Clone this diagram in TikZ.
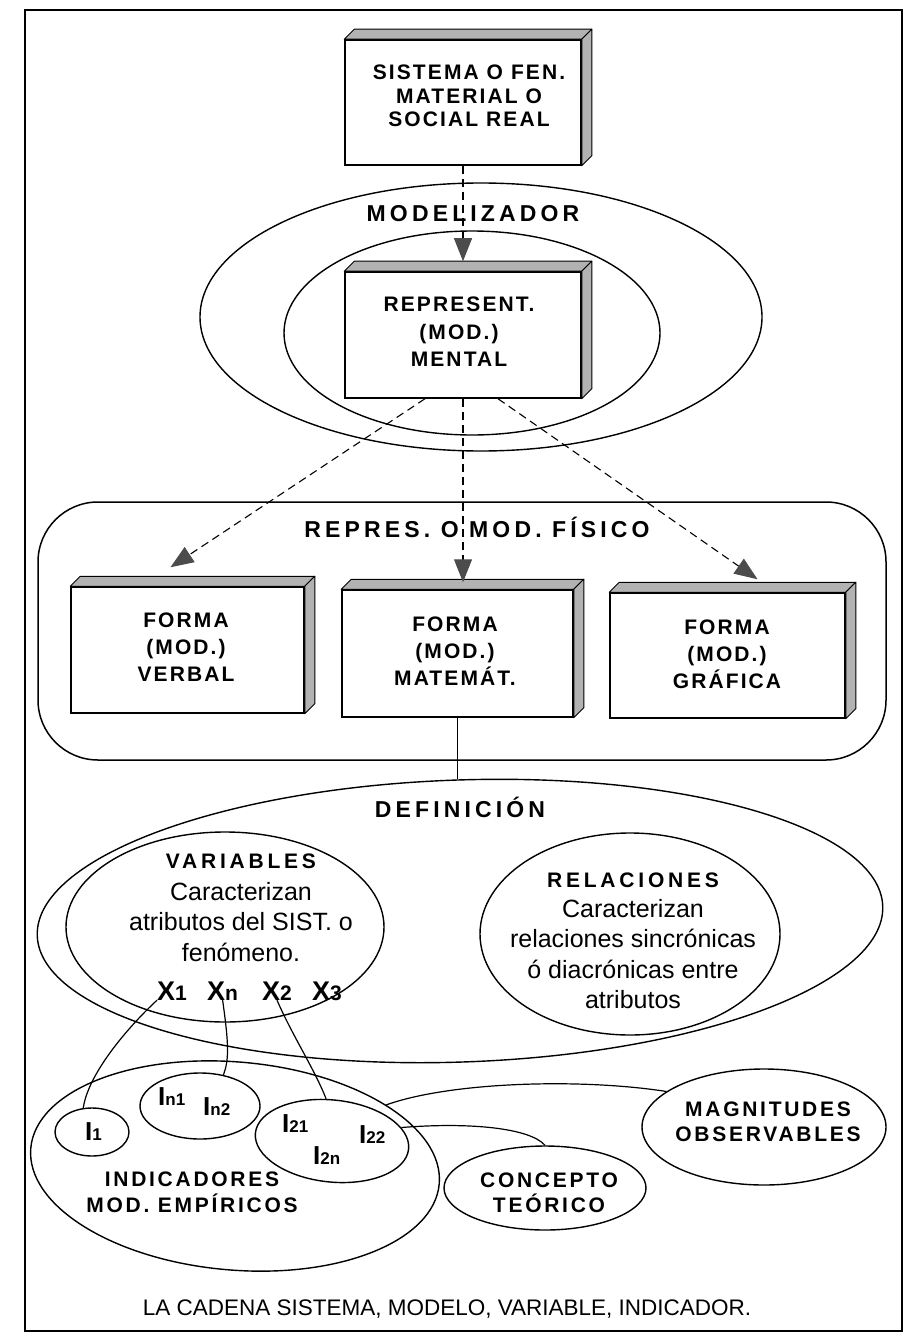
\documentclass[tikz,border=0pt]{standalone}
\usepackage{fontspec}
\setmainfont{Liberation Sans}
\newfontfamily\boxfont{Liberation Sans}[LetterSpace=10]
\newfontfamily\headfont{Liberation Sans}[LetterSpace=18]
\newfontfamily\labfont{Liberation Sans}[LetterSpace=13]
\usetikzlibrary{shapes.geometric,arrows.meta,calc}

\newcommand\fsz[2]{\fontsize{#1}{#2}\selectfont}
% small indices after X and I
\newcommand\sx[1]{{\fsz{21}{21}#1}}
\newcommand\si[1]{{\fsz{17}{17}#1}}

% a box drawn in relief: front face plus shaded top and right sides
\newcommand\tdbox[5]{%
  \node[face, minimum width=#4pt, minimum height=#5pt] (#1) at (#2,#3) {};
  \draw[band] (#1.north west) -- ++(10,-10) -- ($(#1.north east)+(10,-10)$) -- (#1.north east) -- cycle;
  \draw[band] (#1.north east) -- ++(10,-10) -- ($(#1.south east)+(10,-10)$) -- (#1.south east) -- cycle;
}

\begin{document}
\begin{tikzpicture}[x=1pt,y=-1pt,
  face/.style={draw, fill=white, line width=1.5pt, inner sep=0pt},
  band/.style={fill=black!30, draw, line width=1pt, line join=round},
  ell/.style={draw, ellipse, inner sep=0pt, line width=1.4pt},
  txt/.style={inner sep=0pt, align=center},
  boxtxt/.style={txt, font=\boxfont\bfseries\fsz{21}{27}},
  head/.style={txt, font=\headfont\bfseries\fsz{23}{28}},
  lab/.style={txt, font=\labfont\bfseries\fsz{21}{26}},
  body/.style={txt, font=\fsz{25}{30.5}},
  varlab/.style={inner sep=0pt, font=\bfseries\fsz{27}{27}},
  indlab/.style={inner sep=0pt, font=\bfseries\fsz{26}{26}},
  dline/.style={dash pattern=on 8pt off 5pt, line width=1.1pt},
  tip/.style={-{Triangle[length=23pt,width=18pt,color=black!70]}},
  link/.style={line width=1.2pt}
]
\useasboundingbox (0,0) rectangle (905,1337);

% page frame
\draw[line width=2.2pt] (25,10) rectangle (902,1331);

% ---- modeller ----
\node[ell, minimum width=562pt, minimum height=268pt] (modo) at (481,317) {};
\node[ell, minimum width=376pt, minimum height=204pt] (modi) at (472,333) {};
\node[head, anchor=base] (modT) at (473,222) {MODELIZADOR};

\tdbox{sist}{463}{102.5}{236}{125}
\node[boxtxt, font=\boxfont\bfseries\fsz{21}{23.5}, anchor=north] (sistT) at (469,65) {SISTEMA O FEN.\\MATERIAL O\\SOCIAL REAL};

\tdbox{rep}{463}{335}{236}{126}
\node[boxtxt, font=\boxfont\bfseries\fsz{21}{27.5}, anchor=north] (repT) at (459,297) {REPRESENT.\\(MOD.)\\MENTAL};

\draw[dline, tip, shorten >=10pt] (sist.south) -- (rep.north);

% ---- physical representations ----
\node[draw, line width=1.5pt, rounded corners=60pt, minimum width=848pt, minimum height=258pt, inner sep=0pt] (fis) at (462,631) {};
\node[head, anchor=base] (fisT) at (477,537) {REPRES. O MOD. FÍSICO};

\tdbox{verb}{187.5}{650}{233}{126}
\tdbox{mat}{457.5}{653.5}{231}{127}
\tdbox{graf}{727.5}{655.5}{235}{125}
\node[boxtxt, anchor=north] (verbT) at (186,613) {FORMA\\(MOD.)\\VERBAL};
\node[boxtxt, anchor=north] (matT) at (455,617) {FORMA\\(MOD.)\\MATEMÁT.};
\node[boxtxt, anchor=north] (grafT) at (727,620) {FORMA\\(MOD.)\\GRÁFICA};

\draw[dline, tip] ($(rep.south)+(-38,0)$) -- ($(verb.north)+(-17,-19)$);
\draw[dline, tip, shorten >=7pt] (rep.south) -- (rep.south |- mat.north);
\draw[dline, tip] ($(rep.south)+(35,0)$) -- ($(graf.north)+(30,-13)$);

% ---- definition ----
\node[ell, minimum width=846pt, minimum height=282pt, rotate=2] (def) at (460,921) {};
\node[head, anchor=base] (defT) at (460,817) {DEFINICIÓN};
\draw[link] (mat.south) -- (mat.south |- def.north);

\node[ell, minimum width=318pt, minimum height=190pt] (var) at (225,927) {};
\node[txt, font=\headfont\bfseries\fsz{21}{25}, anchor=base] (varT) at (241,868) {VARIABLES};
\node[body, anchor=north] (varB) at (241,882) {Caracterizan\\atributos del SIST. o\\fenómeno.};
\node[varlab, anchor=base west] (x1) at (157,1000) {X\sx{1}};
\node[varlab, anchor=base west] (xn) at (207,1000) {X\sx{n}};
\node[varlab, anchor=base west] (x2) at (262,1000) {X\sx{2}};
\node[varlab, anchor=base west] (x3) at (312,1000) {X\sx{3}};

\node[ell, minimum width=300pt, minimum height=202pt] (rel) at (630,934) {};
\node[txt, font=\headfont\bfseries\fsz{21}{25}, anchor=base] (relT) at (633,887) {RELACIONES};
\node[body, anchor=north] (relB) at (633,899) {Caracterizan\\relaciones sincrónicas\\ó diacrónicas entre\\atributos};

% ---- indicators ----
\node[ell, minimum width=410pt, minimum height=208pt, rotate=-5] (ind) at (235,1166) {};
\node[ell, minimum width=74pt, minimum height=48pt] (i1) at (92,1132) {};
\node[ell, minimum width=120pt, minimum height=66pt] (in) at (200,1106) {};
\node[ell, minimum width=154pt, minimum height=82pt, rotate=-6] (i2) at (332,1141) {};
\node[ell, minimum width=244pt, minimum height=116pt] (mag) at (764,1127) {};
\node[ell, minimum width=202pt, minimum height=84pt] (con) at (545,1188) {};

\node[indlab, anchor=base west] (l1) at (85,1140) {I\si{1}};
\node[indlab, anchor=base west] (ln1) at (158,1105) {I\si{n1}};
\node[indlab, anchor=base west] (ln2) at (203,1115) {I\si{n2}};
\node[indlab, anchor=base west] (l21) at (282,1132) {I\si{21}};
\node[indlab, anchor=base west] (l22) at (359,1143) {I\si{22}};
\node[indlab, anchor=base west] (l2n) at (313,1164) {I\si{2n}};

\node[lab, anchor=north] (indT) at (192,1172) {INDICADORES\\MOD. EMPÍRICOS};
\node[lab, font=\labfont\bfseries\fsz{21}{25}, anchor=north] (magT) at (768,1102) {MAGNITUDES\\OBSERVABLES};
\node[lab, font=\labfont\bfseries\fsz{21}{25}, anchor=north] (conT) at (549,1173) {CONCEPTO\\TEÓRICO};

\draw[link] (x1.south west) .. controls (125,1030) and (88,1075) .. (i1.110);
\draw[link] (xn.south) .. controls (229,1045) and (229,1060) .. (in.53);
\draw[link] (x2.south) .. controls (292,1035) and (315,1070) .. (i2.104);
\draw[link] (mag.160) .. controls (580,1078) and (450,1082) .. (ind.27);
\draw[link] (i2.17) .. controls (470,1122) and (530,1128) .. (con.north);

% caption
\node[inner sep=0pt, font=\fsz{22.5}{27}, anchor=base] (cap) at (447,1315) {LA CADENA SISTEMA, MODELO, VARIABLE, INDICADOR.};
\end{tikzpicture}
\end{document}
